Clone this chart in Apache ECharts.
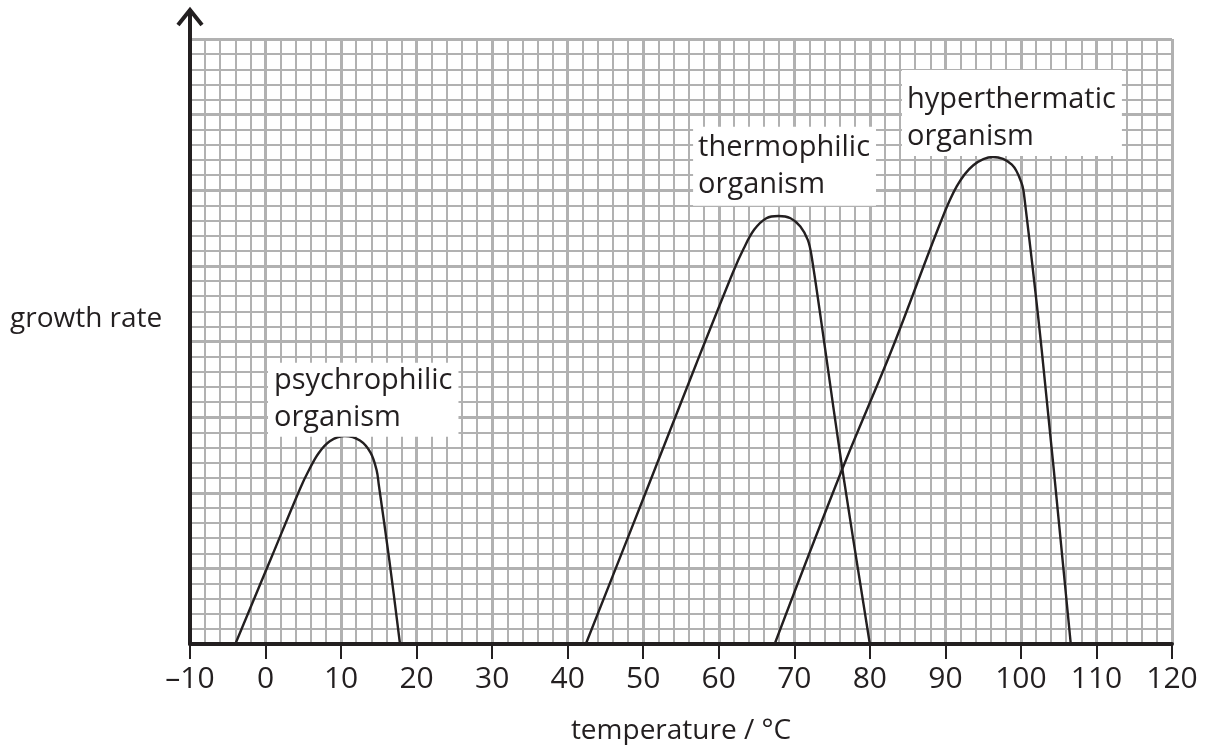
<!DOCTYPE html>
<html>
<head>
<meta charset="utf-8">
<script src="https://cdn.jsdelivr.net/npm/echarts@6/dist/echarts.min.js"></script>
<style>
html,body{margin:0;padding:0;background:#fff;}
#chart{width:1205px;height:745px;}
</style>
</head>
<body>
<div id="chart"></div>
<script>
// ---- data ----
const xMin = -10, xMax = 120, xStep = 10;
const yMin = 0, yMax = 80, yStep = 10;
const xTickLabels = ['–10','0','10','20','30','40','50','60','70','80','90','100','110','120'];
const xAxisTitle = 'temperature / °C';
const yAxisTitle = 'growth rate';

const seriesNames = ['psychrophilic\norganism', 'thermophilic\norganism', 'hyperthermatic\norganism'];

const psychrophilic = [
  [-4.0, 0], [0.8, 11.5], [4.6, 20.6], [5.8, 23.1], [7.0, 25.2], [8.5, 26.8], [10.5, 27.5],
  [12.5, 26.9], [13.9, 25.3], [14.7, 23.0], [15.0, 21.0], [16.4, 11.0], [17.8, 0]
];
const thermophilic = [
  [42.4, 0], [50.0, 19.2], [57.0, 37.0], [61.9, 49.2], [63.3, 52.3], [64.7, 54.8],
  [66.3, 56.3], [67.9, 56.6], [69.5, 56.3], [70.8, 55.2], [71.8, 53.4], [72.3, 51.2],
  [74.1, 38.9], [76.3, 23.5], [80.0, 0]
];
const hyperthermatic = [
  [67.4, 0], [76.3, 23.0], [82.9, 38.9], [89.3, 55.6], [91.5, 60.5], [93.7, 63.3],
  [96.3, 64.4], [98.8, 63.4], [100.1, 60.9], [100.5, 58.7], [102.75, 38.9], [106.6, 0]
];
// top-left anchor of each annotation box (data units)
const labelAnchors = [[0.33, 37.2], [56.6, 68.4], [84.25, 75.9]];
// box paddings [top, right, bottom, left]
const labelPads = [[0, 6, 0, 6], [3, 6, 2, 5], [11, 6, 1, 5]];

// ---- chart ----
const ink = '#231f20';
const gridGray = '#b1b1b1';
const font = 'Open Sans';
const chart = echarts.init(document.getElementById('chart'), null, {renderer: 'canvas'});

function curve(name, data, anchor, pad) {
  return {
    type: 'line', name: name, data: data, smooth: 0.35, symbol: 'none',
    lineStyle: {color: ink, width: 2.4},
    silent: true, animation: false, z: 3,
    markPoint: {
      symbol: 'circle', symbolSize: 0, silent: true, animation: false,
      data: [{coord: anchor, value: name}],
      label: {
        show: true, position: [0, 0], align: 'left', verticalAlign: 'top',
        formatter: name, color: ink, fontFamily: font, fontSize: 29, lineHeight: 37,
        backgroundColor: '#ffffff', padding: pad
      }
    }
  };
}

chart.setOption({
  animation: false,
  backgroundColor: '#ffffff',
  grid: {left: 190, right: 33, top: 39, bottom: 101, containLabel: false, outerBoundsMode: 'none'},
  xAxis: {
    type: 'value', min: xMin, max: xMax, interval: xStep,
    name: xAxisTitle, nameLocation: 'middle', nameGap: 73,
    nameTextStyle: {color: ink, fontFamily: font, fontSize: 28},
    axisLine: {show: true, onZero: false, lineStyle: {color: ink, width: 4}},
    axisTick: {show: true, length: 15, lineStyle: {color: ink, width: 2}},
    axisLabel: {
      color: ink, fontFamily: font, fontSize: 30, margin: 20,
      formatter: v => xTickLabels[Math.round((v - xMin) / xStep)]
    },
    splitLine: {show: true, lineStyle: {color: gridGray, width: 3}},
    minorTick: {show: false, splitNumber: 5},
    minorSplitLine: {show: true, lineStyle: {color: gridGray, width: 2}}
  },
  yAxis: {
    type: 'value', min: yMin, max: yMax, interval: yStep,
    axisLine: {show: true, onZero: false, lineStyle: {color: ink, width: 4}},
    axisTick: {show: false},
    axisLabel: {show: false},
    splitLine: {show: true, lineStyle: {color: gridGray, width: 3}},
    minorTick: {show: false, splitNumber: 5},
    minorSplitLine: {show: true, lineStyle: {color: gridGray, width: 2}}
  },
  series: [
    curve(seriesNames[0], psychrophilic, labelAnchors[0], labelPads[0]),
    curve(seriesNames[1], thermophilic, labelAnchors[1], labelPads[1]),
    curve(seriesNames[2], hyperthermatic, labelAnchors[2], labelPads[2])
  ]
});

// axis extension with open arrow head, and the y-axis title
const axTop = chart.convertToPixel({gridIndex: 0}, [xMin, yMax]);
const axMid = chart.convertToPixel({gridIndex: 0}, [xMin, 43]);
const ax = axTop[0], ay = axTop[1];
const tipY = ay - 30;
chart.setOption({
  graphic: [
    {type: 'polyline', shape: {points: [[ax, ay + 2], [ax, tipY]]}, style: {stroke: ink, lineWidth: 4, fill: null}, z: 10},
    {type: 'polyline', shape: {points: [[ax - 12, tipY + 16], [ax, tipY + 1], [ax + 12, tipY + 16]]}, style: {stroke: ink, lineWidth: 4, fill: null, lineJoin: 'miter'}, z: 10},
    {type: 'text', x: 10, y: axMid[1], style: {text: yAxisTitle, fill: ink, font: '28px "Open Sans"', textAlign: 'left', textVerticalAlign: 'middle'}, z: 10}
  ]
});
</script>
</body>
</html>
